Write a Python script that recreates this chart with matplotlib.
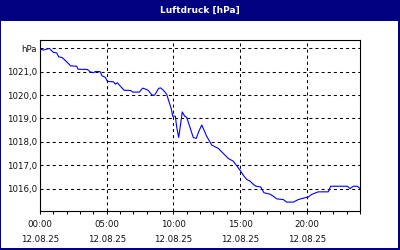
import matplotlib
matplotlib.use("Agg")
import matplotlib.pyplot as plt
from matplotlib.patches import Rectangle

plt.rcParams['lines.scale_dashes'] = False

# data: hours after 12.08.25 00:00, pressure hPa
hours = [0.0, 0.25, 0.70, 1.0, 1.25, 1.40, 1.65, 2.0, 2.30, 2.75, 2.85, 3.55, 3.75, 4.0, 4.15,
         4.5, 4.65, 4.9, 5.05, 5.5, 5.65, 5.8, 5.95, 6.3, 6.8, 6.95, 7.45, 7.7, 8.0, 8.15,
         8.4, 8.6, 8.9, 9.05, 9.25, 9.5, 9.7, 9.85, 9.95, 10.15, 10.25, 10.4, 10.5, 10.67,
         10.85, 11.0, 11.15, 11.5, 11.72, 11.9, 12.13, 12.25, 12.5, 12.88, 13.37, 13.63,
         14.12, 14.5, 15.0, 15.25, 15.5, 15.75, 16.0, 16.2, 16.55, 16.8, 17.25, 17.5, 17.75,
         18.25, 18.5, 19.0, 19.37, 19.75, 20.12, 20.38, 20.87, 21.62, 21.8, 23.05, 23.25,
         23.5, 23.8, 24.0]
pressure = [1021.97, 1021.93, 1022.0, 1021.83, 1021.81, 1021.64, 1021.61, 1021.43, 1021.25,
            1021.24, 1021.11, 1021.10, 1021.0, 1020.96, 1021.01, 1021.01, 1020.83, 1020.76,
            1020.59, 1020.57, 1020.47, 1020.53, 1020.43, 1020.21, 1020.20, 1020.13, 1020.13,
            1020.30, 1020.24, 1020.18, 1020.0, 1020.0, 1020.29, 1020.31, 1020.21, 1020.04,
            1019.67, 1019.41, 1019.10, 1019.10, 1018.64, 1018.19, 1018.57, 1019.28, 1019.10,
            1019.05, 1018.79, 1018.18, 1018.15, 1018.43, 1018.72, 1018.57, 1018.24, 1017.86,
            1017.72, 1017.57, 1017.29, 1017.17, 1016.79, 1016.57, 1016.39, 1016.32, 1016.18,
            1016.10, 1016.07, 1015.82, 1015.76, 1015.67, 1015.56, 1015.53, 1015.42, 1015.42,
            1015.53, 1015.59, 1015.64, 1015.75, 1015.86, 1015.86, 1016.10, 1016.10, 1016.0,
            1016.10, 1016.10, 1016.0]

x_major = [0, 5, 10, 15, 20]
x_labels = ["00:00\n12.08.25", "05:00\n12.08.25", "10:00\n12.08.25",
            "15:00\n12.08.25", "20:00\n12.08.25"]
y_ticks = [1016, 1017, 1018, 1019, 1020, 1021, 1022]
y_labels = ["1016,0", "1017,0", "1018,0", "1019,0", "1020,0", "1021,0", "hPa"]
title = "Luftdruck [hPa]"

navy = "#000080"
fig = plt.figure(figsize=(4, 2.5), dpi=100)
fig.patch.set_facecolor("white")

# title bar and border
fig.add_artist(Rectangle((0, 229/250), 1, 21/250, transform=fig.transFigure,
                         facecolor=navy, edgecolor="none", zorder=0))
fig.add_artist(Rectangle((0, 0), 1/400, 1, transform=fig.transFigure,
                         facecolor=navy, edgecolor="none"))
fig.add_artist(Rectangle((398/400, 0), 2/400, 1, transform=fig.transFigure,
                         facecolor=navy, edgecolor="none"))
fig.add_artist(Rectangle((0, 0), 1, 2/250, transform=fig.transFigure,
                         facecolor=navy, edgecolor="none"))
fig.text(0.5, 239.5/250, title, color="white", fontsize=6.5, fontweight="bold",
         ha="center", va="center", family="DejaVu Sans")

ax = fig.add_axes([40/400, 39/250, 320/400, 171/250])
ax.plot(hours, pressure, color="#0000FF", lw=0.8, zorder=3)

ax.set_xlim(0, 24)
ax.set_ylim(1015.04, 1022.36)
ax.set_xticks(x_major)
ax.set_xticklabels(x_labels, fontsize=6.2, linespacing=1.9)
ax.set_xticks(list(range(0, 25)), minor=True)
ax.set_yticks(y_ticks)
ax.set_yticklabels(y_labels, fontsize=6.2)
ax.tick_params(axis="x", which="both", direction="out", length=2.5, width=0.75,
               color="black", pad=4)
ax.tick_params(axis="y", length=0, pad=2)
for lab in ax.get_xticklabels() + ax.get_yticklabels():
    lab.set_color("#101010")

for s in ax.spines.values():
    s.set_linewidth(0.8)
    s.set_color("black")

ax.grid(True, which="major", color="black", lw=0.75, linestyle=(0, (2.2, 2.2)))
ax.set_axisbelow(True)

fig.savefig("out.png", dpi=100)
